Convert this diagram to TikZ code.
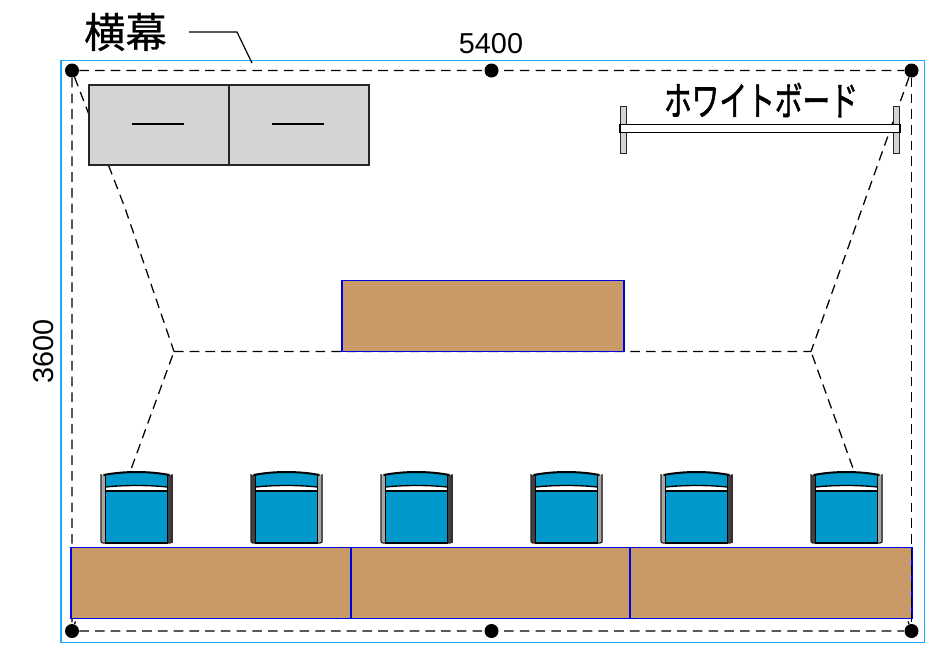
\documentclass[tikz,border=0pt]{standalone}
\usepackage{fontspec}
\setmainfont{Liberation Sans}
\newfontfamily\jpfont[FakeBold=0.5]{Noto Sans CJK JP}
\newfontfamily\jpheavy[FakeBold=1.6]{Noto Sans CJK JP}
\usetikzlibrary{positioning}

\begin{document}
\begin{tikzpicture}[x=0.75pt,y=-0.75pt,
	dot_node/.style={circle,fill=black,minimum size=10.5pt,inner sep=0pt},
	desk_node/.style={rectangle,draw=blue!90!black,fill=deskbrown,line width=1.1pt,inner sep=0pt,minimum height=53.25pt},
	panel_node/.style={rectangle,draw=black!85,fill=black!17,line width=0.9pt,inner sep=0pt,minimum width=105pt,minimum height=60pt},
	post_node/.style={rectangle,draw=black!85,fill=black!17,line width=0.8pt,inner sep=0pt,minimum width=5pt,minimum height=35pt},
	board_node/.style={rectangle,draw=black,fill=white,line width=0.9pt,inner sep=0pt,minimum width=210pt,minimum height=6.5pt},
	guide/.style={dash pattern=on 7.2pt off 4.6pt,line width=0.95pt},
	seat/.pic={
		% side strips
		\fill[black!35] (-36,-33) rectangle (-31,35);
		\fill[black!75] (31,-33) rectangle (36,35);
		\draw[line width=0.9pt,black!85,rounded corners=1.5pt] (-35.5,-34) -- (-35.5,35) -- (35.5,35) -- (35.5,-34);
		\fill[seatblue] (-31,-33) .. controls (-12,-37) and (12,-37) .. (31,-33) -- (31,35) -- (-31,35) -- cycle;
		\fill[white] (-31,-21) .. controls (-12,-23) and (12,-23) .. (31,-21) -- (31,-17) -- (-31,-17) -- cycle;
		\draw[line width=1pt] (-31,-21) .. controls (-12,-23) and (12,-23) .. (31,-21);
		\draw[line width=1.1pt] (-31,-17) -- (31,-17);
		\draw[line width=1.5pt] (-33,-33) .. controls (-12,-37) and (12,-37) .. (33,-33);
		\draw[line width=1pt] (-31,-33) -- (-31,35) -- (31,35) -- (31,-33);
	}]
	\definecolor{deskbrown}{RGB}{201,153,103}
	\definecolor{seatblue}{RGB}{0,153,204}
	\definecolor{roomblue}{RGB}{30,170,250}

	\useasboundingbox (0,0) rectangle (929,647);
	\path[fill=white] (0,0) rectangle (929,647);
	\draw[roomblue,line width=1.2pt] (61,60.5) rectangle (924.5,642.5);

	\node[dot_node] (nw) at (72,70.5) {};
	\node[dot_node] (n) at (491.5,70.5) {};
	\node[dot_node] (ne) at (911.5,70.5) {};
	\node[dot_node] (sw) at (72,631) {};
	\node[dot_node] (s) at (491.5,631) {};
	\node[dot_node] (se) at (911.5,631) {};
	\coordinate (left) at (174,351.5);
	\coordinate (right) at (811,351.5);
	\coordinate (bend1) at (125,208);
	\coordinate (bend2) at (899,105);

	\draw[guide] (nw) -- (ne)
(sw) -- (se)
(nw) -- (sw)
(nw) -- (bend1) -- (left)
(left) -- (right)
(ne) -- (bend2) -- (right);
	\draw[guide,dash phase=5pt] (sw) -- (left)
(se) -- (right);

	\node[panel_node] (panel1) at (159,125) {};
	\node[panel_node] (panel2) at (299,125) {};
	\draw[line width=0.8pt] (132,124) -- (184,124)
(272,124) -- (324,124);

	\node[post_node] (post1) at (623.5,130) {};
	\node[post_node] (post2) at (896.5,130) {};
	\node[board_node] (board) at (760,128.5) {};
	\node[font=\jpheavy\fontsize{26pt}{26pt}\selectfont,xscale=0.8,yscale=1.15] (boardname) at (761,100) {ホワイトボード};

	\node[desk_node,minimum width=211.5pt] (desk0) at (483,316) {};
	\node[desk_node,minimum width=210pt] (desk1) at (211,583) {};
	\node[desk_node,minimum width=209.25pt] (desk2) at (490.5,583) {};
	\node[desk_node,minimum width=211.5pt] (desk3) at (771,583) {};

	\draw[guide] (ne) -- (se);

	\pic at (136.5,508) {seat};
	\pic[xscale=-1] at (286.5,508) {seat};
	\pic at (416.5,508) {seat};
	\pic[xscale=-1] at (566.5,508) {seat};
	\pic at (696.5,508) {seat};
	\pic[xscale=-1] at (846.5,508) {seat};

	\node[font=\jpfont\fontsize{31pt}{31pt}\selectfont] (banner) at (125.5,32) {横幕};
	\coordinate (lead1) at (189,32);
	\coordinate (lead2) at (237,32);
	\coordinate (lead3) at (252,63);
	\draw[line width=0.9pt] (lead1) -- (lead2) -- (lead3);

	\node[font=\fontsize{21.6pt}{21.6pt}\selectfont] (width) at (491,44) {5400};
	\node[font=\fontsize{21.6pt}{21.6pt}\selectfont,rotate=90] (height) at (44,351) {3600};
\end{tikzpicture}
\end{document}
